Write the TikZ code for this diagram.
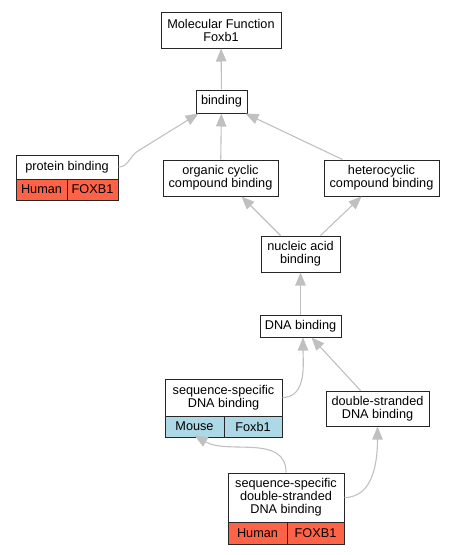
\documentclass[tikz,border=0pt]{standalone}
\usepackage{fontspec}
\setmainfont{Liberation Sans}
\usepackage{xcolor}
\usetikzlibrary{arrows.meta}

\definecolor{human}{HTML}{FF6347}
\definecolor{mouse}{HTML}{ADD8E6}
\definecolor{edgegray}{HTML}{C0C0C0}

\tikzset{
	term/.style={draw=black!85, fill=white, line width=1pt, align=center, inner sep=0pt,
		font=\fontsize{12.7}{13}\selectfont},
	cell/.style={term, minimum height=21},
	isa/.style={draw=edgegray, line width=1.1pt, -{Triangle[length=13pt,width=10.5pt]}}
}

\begin{document}
\begin{tikzpicture}[x=1pt,y=-1pt]
	\useasboundingbox (0,0) rectangle (455,555);
	% terms
	\node[term, minimum width=120, minimum height=36] (mf) at (221,30) {Molecular Function\\Foxb1};
	\node[term, minimum width=51, minimum height=23] (bind) at (221.5,101.5) {binding};
	\node[term, minimum width=115, minimum height=36] (org) at (220.5,178) {organic cyclic\\compound binding};
	\node[term, minimum width=115, minimum height=36] (het) at (381.5,178) {heterocyclic\\compound binding};
	\node[term, minimum width=79, minimum height=36] (nuc) at (300.5,254) {nucleic acid\\binding};
	\node[term, minimum width=81, minimum height=22] (dna) at (300.5,326) {DNA binding};
	\node[term, minimum width=103, minimum height=35] (ds) at (377.5,408.5) {double-stranded\\DNA binding};
	% annotated terms
	\node[term, minimum width=102, minimum height=24] (prot) at (67,167) {protein binding};
	\node[cell, fill=human, minimum width=51] (humanA) at (41.5,189.5) {Human};
	\node[cell, fill=human, minimum width=51] (foxbA) at (92.5,189.5) {FOXB1};
	\node[term, minimum width=117, minimum height=37] (seq) at (223.5,397.5) {sequence-specific\\DNA binding};
	\node[cell, fill=mouse, minimum width=59] (mouse) at (194.5,426.5) {Mouse};
	\node[cell, fill=mouse, minimum width=58] (foxbB) at (253,426.5) {Foxb1};
	\node[term, minimum width=116, minimum height=49] (sds) at (286,497.5) {sequence-specific\\double-stranded\\DNA binding};
	\node[cell, fill=human, minimum width=59, minimum height=22] (humanB) at (257.5,533) {Human};
	\node[cell, fill=human, minimum width=57, minimum height=22] (foxbC) at (315.5,533) {FOXB1};
	% is_a
	\draw[isa] (bind) -- (mf);
	\draw[isa] (prot.east) to[out=0,in=212] (138,151) -- ([xshift=3]bind.south west);
	\draw[isa] (org) -- (bind);
	\draw[isa] ([xshift=19]het.north west) -- ([xshift=-2]bind.south east);
	\draw[isa] ([xshift=20]nuc.north west) -- ([xshift=-37]org.south east);
	\draw[isa] ([xshift=-20]nuc.north east) -- ([xshift=38]het.south west);
	\draw[isa] (dna) -- (nuc);
	\draw[isa] (seq.east) to[out=0,in=-90] ([xshift=2.5]dna.south);
	\draw[isa] ([xshift=35]ds.north west) -- ([xshift=-30]dna.south east);
	\draw[isa] (sds.north) to[out=90,in=-30] ([yshift=2]mouse.south);
	\draw[isa] (sds.east) to[out=0,in=-90] (ds.south);
\end{tikzpicture}
\end{document}
